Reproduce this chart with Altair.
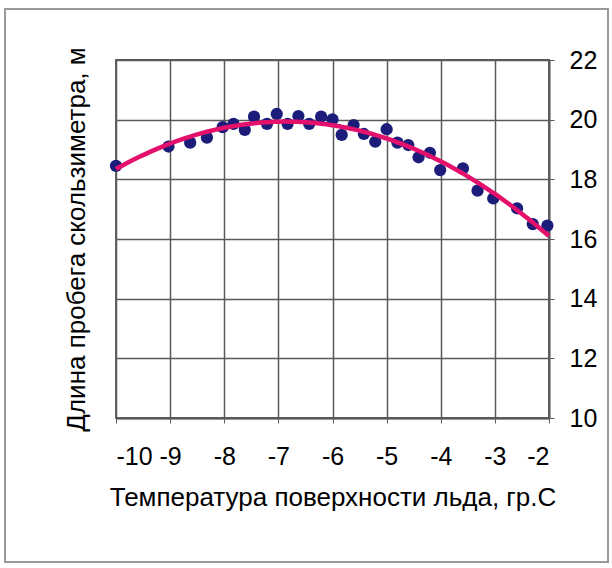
import altair as alt
import pandas as pd

# Ice surface temperature, °C
temperature = [-10.0, -9.03, -8.63, -8.32, -8.03, -7.83, -7.62, -7.45, -7.21, -7.03,
               -6.83, -6.63, -6.43, -6.21, -6.0, -5.83, -5.61, -5.42, -5.21, -5.0,
               -4.80, -4.60, -4.41, -4.20, -4.01, -3.59, -3.32, -3.03, -2.59, -2.30,
               -2.03]
# Glide distance of the slide-meter, m
distance = [18.45, 19.10, 19.23, 19.40, 19.75, 19.86, 19.66, 20.10, 19.86, 20.19,
            19.86, 20.12, 19.86, 20.10, 20.01, 19.49, 19.82, 19.52, 19.26, 19.68,
            19.23, 19.15, 18.74, 18.89, 18.31, 18.37, 17.62, 17.36, 17.03, 16.50,
            16.45]

x_ticks = [-10, -9, -8, -7, -6, -5, -4, -3, -2]
y_ticks = [10, 12, 14, 16, 18, 20, 22]

df = pd.DataFrame({"t": temperature, "d": distance})

FONT = "Liberation Sans"
GRID = "#5a5a5a"
HYPHEN = "replace(datum.label, '\u2212', '-')"

x_scale = alt.Scale(domain=[-10, -2], nice=False, zero=False)
y_scale = alt.Scale(domain=[10, 22], nice=False, zero=False)

x_axis = alt.Axis(
    values=x_ticks, title="Температура поверхности льда, гр.С",
    labelExpr=HYPHEN, grid=True,
    labelFontSize=25, titleFontSize=26, labelPadding=21, titlePadding=15,
    tickSize=5, tickColor=GRID, domainColor=GRID, gridColor=GRID,
    gridWidth=1.5, domainWidth=1.8, labelColor="black", titleColor="black",
    titleFontWeight="normal", labelFont=FONT, titleFont=FONT,
)

base = alt.Chart(df)

points = base.mark_circle(size=150, color="#1c1c7a", opacity=1).encode(
    x=alt.X("t:Q", scale=x_scale, axis=x_axis),
    y=alt.Y("d:Q", scale=y_scale, axis=alt.Axis(
        orient="left", labels=False, ticks=False, domain=False, grid=False,
        title="Длина пробега скользиметра, м", titleFontSize=26,
        titleFont=FONT, titleColor="black", titleFontWeight="normal",
        titlePadding=27)),
)

trend = base.mark_line(color="#e3106c", strokeWidth=4.5).transform_regression(
    "t", "d", method="poly", order=2, extent=[-10, -2]
).encode(
    x=alt.X("t:Q", scale=x_scale),
    y=alt.Y("d:Q", scale=y_scale, axis=alt.Axis(
        orient="right", values=y_ticks, title=None, grid=True,
        labelFontSize=25, labelPadding=15, tickSize=5, tickColor=GRID,
        domainColor=GRID, gridColor=GRID, gridWidth=1.5, domainWidth=1.8,
        labelColor="black", labelFont=FONT)),
)

# light outer border around the whole figure
frame = alt.Chart(df).mark_rect(
    fill=None, stroke="#9a9a9a", strokeWidth=1.5
).encode(
    x=alt.value(-111), x2=alt.value(492), y=alt.value(-51), y2=alt.value(502)
)

chart = alt.layer(frame, points, trend).resolve_axis(y="independent").properties(
    width=433, height=358,
    padding={"left": 116, "top": 60, "right": 63, "bottom": 150},
    autosize=alt.AutoSizeParams(type="none"),
    background="white",
).configure_view(stroke=GRID, strokeWidth=1.8)

chart.save("out.html", embed_options={"renderer": "svg", "actions": False})
